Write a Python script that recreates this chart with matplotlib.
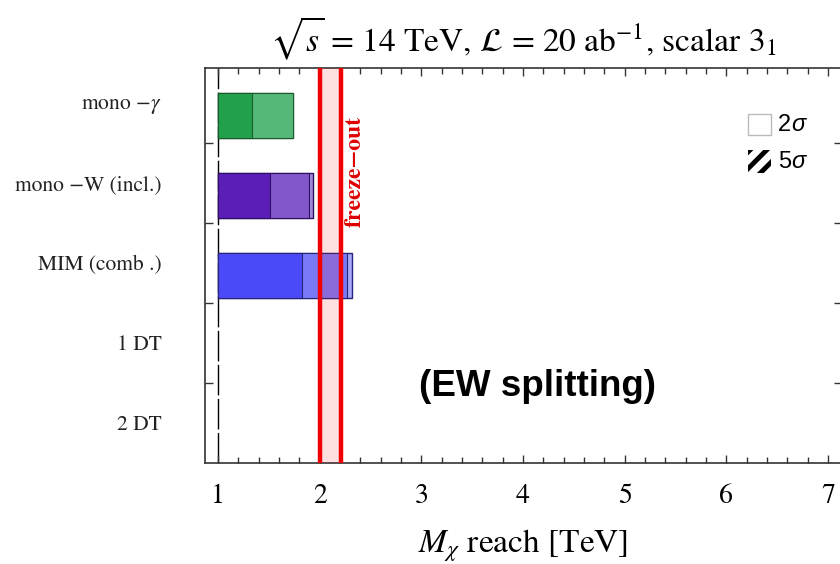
import matplotlib
matplotlib.use("Agg")
import matplotlib.pyplot as plt
from matplotlib.patches import Rectangle
from matplotlib.ticker import MultipleLocator, FixedLocator, NullFormatter

plt.rcParams['mathtext.fontset'] = 'stix'
plt.rcParams['font.family'] = ['STIXGeneral', 'DejaVu Serif']
plt.rcParams['hatch.linewidth'] = 3.5

# Channels (top to bottom) and reach values in TeV
channels = [r'mono $-\gamma$', 'mono \u2212W (incl.)', 'MIM (comb .)', '1 DT', '2 DT']
reach_5sigma = [1.334, 1.511, 1.826, None, None]
reach_2sigma = [1.738, 1.895, 2.270, None, None]
reach_outer = [1.740, 1.930, 2.320, None, None]
dark_colors = ['#22a04b', '#5b1fb8', '#4a4af8', None, None]
light_colors = ['#55b878', '#8357cc', '#7a7af8', None, None]
tip_colors = ['#55b878', '#a08ad8', '#a8a8f8', None, None]
edge_colors = ['#1c5a30', '#2e1066', '#26267a', None, None]

x_start = 1.0
freeze_out = (2.0, 2.21)

fig = plt.figure(figsize=(8.4, 5.64), dpi=100)
ax = fig.add_axes([0.244, 0.179, 0.7584, 0.7004])

ax.set_xlim(0.872, 7.137)
ax.set_ylim(5.0, 0.0625)

bar_h = 0.56
bar_off = 0.16
for i, ch in enumerate(channels):
    if reach_5sigma[i] is None:
        continue
    yc = i + 0.5 + bar_off
    ax.barh(yc, reach_outer[i] - x_start, left=x_start, height=bar_h,
            color=tip_colors[i], edgecolor=edge_colors[i], linewidth=1.0, zorder=2)
    ax.barh(yc, reach_2sigma[i] - x_start, left=x_start, height=bar_h,
            color=light_colors[i], edgecolor=edge_colors[i], linewidth=0.8, zorder=3)
    ax.barh(yc, reach_5sigma[i] - x_start, left=x_start, height=bar_h,
            color=dark_colors[i], edgecolor=edge_colors[i], linewidth=0.8, zorder=4)

# Reference line at the lower mass bound
ax.axvline(x_start, color='black', lw=1.0, dashes=(22, 2.5), zorder=1)

# Freeze-out band
ax.axvspan(freeze_out[0], freeze_out[1], color='red', alpha=0.12, lw=0, zorder=5)
for xv in freeze_out:
    ax.axvline(xv, color='#f00000', lw=3.2, zorder=6)
ax.text(freeze_out[1] + 0.14, 1.36, 'freeze\u2212out', rotation=90, color='#e00000',
        fontweight='bold', fontsize=17, ha='center', va='center', zorder=7)

# Ticks
ax.xaxis.set_major_locator(MultipleLocator(1))
ax.xaxis.set_minor_locator(MultipleLocator(0.2))
ax.tick_params(axis='x', which='both', direction='in', top=True, bottom=True,
               labelsize=20, pad=15, width=1.0, color='#333333')
ax.tick_params(axis='x', which='major', length=6)
ax.tick_params(axis='x', which='minor', length=4)
ax.yaxis.set_major_locator(FixedLocator([1, 2, 3, 4]))
ax.yaxis.set_major_formatter(NullFormatter())
ax.yaxis.set_minor_locator(FixedLocator([i + 0.5 for i in range(len(channels))]))
ax.set_yticklabels(channels, minor=True)
ax.tick_params(axis='y', which='major', direction='in', left=True, right=True,
               length=6, width=1.0, color='#333333')
ax.tick_params(axis='y', which='minor', length=0, labelsize=15.5, pad=31,
               labelcolor='#222222')
for lbl in ax.get_yticklabels(minor=True):
    lbl.set_horizontalalignment('right')

for sp in ax.spines.values():
    sp.set_linewidth(1.2)
    sp.set_color('#333333')

ax.set_xlabel(r'$M_\chi$ reach [TeV]', fontsize=24, labelpad=13)
ax.set_title(r'$\sqrt{s}$ = 14 TeV, $\mathcal{L}$ = 20 ab$^{-1}$, scalar 3$_1$',
             fontsize=24, pad=12)

# Significance key
sans = ['Liberation Sans', 'DejaVu Sans']
ax.add_patch(Rectangle((0.852, 0.830), 0.036, 0.054, transform=ax.transAxes,
                       facecolor='white', edgecolor='#bbbbbb', lw=1.0, zorder=8))
ax.add_patch(Rectangle((0.852, 0.734), 0.036, 0.058, transform=ax.transAxes,
                       facecolor='white', edgecolor='black', hatch='//', lw=0, zorder=8))
for yk, num in [(0.857, '2'), (0.763, '5')]:
    ax.text(0.8995, yk, num, transform=ax.transAxes, family=sans, fontsize=17,
            ha='left', va='center', zorder=9)
    ax.text(0.9205, yk, '\u03c3', transform=ax.transAxes, family=sans, fontsize=17,
            style='italic', ha='left', va='center', zorder=9)

fig.text(0.64, 0.314, '(EW splitting)', family=sans, fontweight='bold',
         fontsize=26.5, ha='center', va='center')

fig.savefig('out.png', dpi=100)
